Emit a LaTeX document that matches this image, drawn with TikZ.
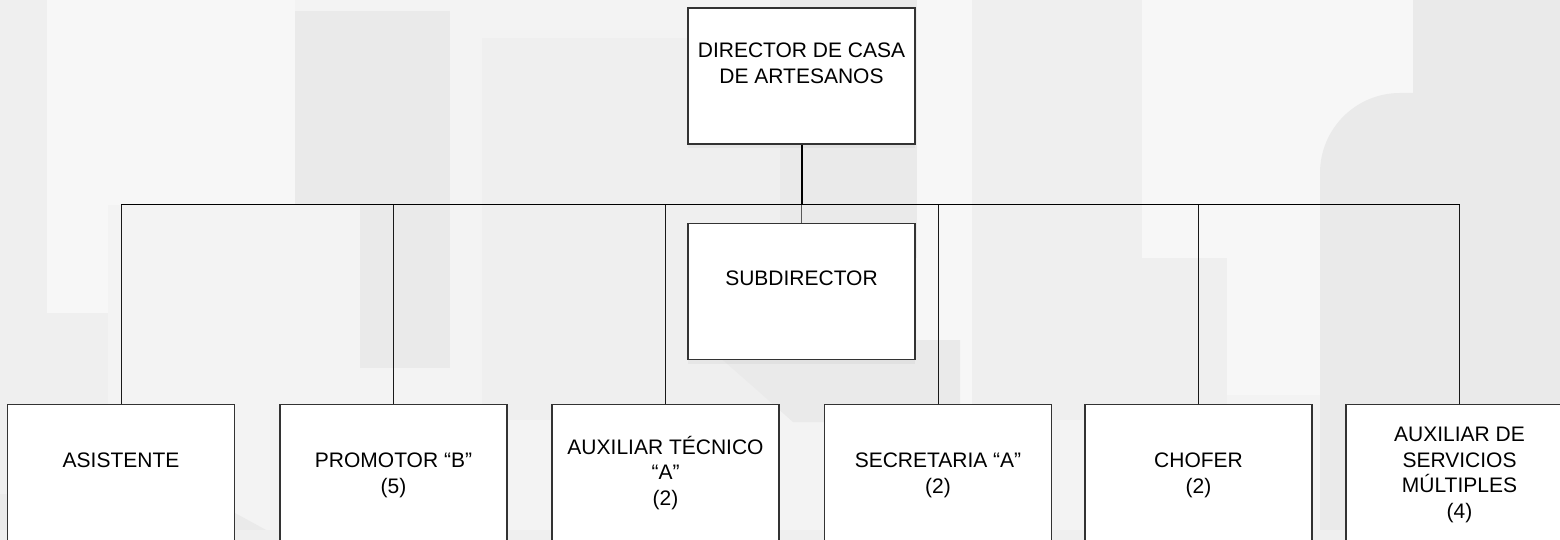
\documentclass[tikz,border=0pt]{standalone}
\usepackage{fontspec}
\setmainfont{Liberation Sans}
\usetikzlibrary{shadows}
\definecolor{bgbase}{HTML}{F3F3F3}
\definecolor{bglite}{HTML}{F7F7F7}
\definecolor{bgmid}{HTML}{EFEFEF}
\definecolor{bgdark}{HTML}{EAEAEA}
\definecolor{boxline}{HTML}{333333}
\newcommand\firstln{\rule{0pt}{20pt}}
\tikzset{
  orgbox/.style={draw=boxline, line width=1.4pt, fill=white, minimum width=227pt,
    minimum height=136pt, inner sep=0pt,
    drop shadow={shadow xshift=0pt, shadow yshift=-4pt, opacity=0.08}},
  lbl/.style={anchor=north, inner sep=0pt, align=center,
    font=\fontsize{21}{25.5}\selectfont, text=black},
  bus/.style={line width=1.1pt, black},
  drop/.style={line width=1pt, black!90},
  stem/.style={line width=2pt, black},
  substem/.style={line width=1.3pt, black!65},
}
\begin{document}
\begin{tikzpicture}[x=1pt, y=-1pt]
\useasboundingbox (0,0) rectangle (1560,540);
\clip (0,0) rectangle (1560,540);
% background watermark shapes
\fill[bgbase] (0,0) rectangle (1560,540);
\fill[bgmid] (0,0) rectangle (47,540);
\fill[bglite] (47,0) rectangle (295,205);
\fill[bglite] (47,205) rectangle (108,313);
\fill[bgmid] (47,313) rectangle (108,540);
\fill[bgdark] (295,11) rectangle (450,205);
\fill[bgdark] (360,205) rectangle (450,368);
\fill[bgmid] (482,38) rectangle (780,420);
\fill[bgdark] (780,0) rectangle (917,258);
\fill[bglite] (917,0) rectangle (972,540);
\fill[bgmid] (972,0) rectangle (1142,420);
\fill[bglite] (1142,0) rectangle (1413,258);
\fill[bgmid] (1141,258) rectangle (1227,405);
\fill[bglite] (1227,258) rectangle (1320,395);
\fill[bgdark] (1413,0) rectangle (1560,93);
\fill[bgdark, rounded corners=80pt] (1320,93) rectangle (1700,700);
\fill[bgdark] (700,340) -- (757,390) -- (793,422) -- (960,422) -- (960,340) -- cycle;
\fill[bgdark] (200,494) -- (560,690) -- (0,690) -- (0,494) -- cycle;
\fill[bgmid] (0,530) rectangle (1560,540);
% boxes
\node[orgbox] (dir) at (801.5,76) {};
\node[orgbox] (sub) at (801.5,291.5) {};
\node[orgbox] (b1) at (121,472.5) {};
\node[orgbox] (b2) at (393.5,472.5) {};
\node[orgbox] (b3) at (665.5,472.5) {};
\node[orgbox] (b4) at (938,472.5) {};
\node[orgbox] (b5) at (1198.5,472.5) {};
\node[orgbox] (b6) at (1459.5,472.5) {};
% labels
\node[lbl] (tdir) at (801.5,37.5) {\firstln DIRECTOR DE CASA\\DE ARTESANOS};
\node[lbl] (tsub) at (801.5,265) {\firstln SUBDIRECTOR};
\node[lbl] (t1) at (121,447.5) {\firstln ASISTENTE};
\node[lbl] (t2) at (393.5,447.5) {\firstln PROMOTOR “B”\\(5)};
\node[lbl] (t3) at (665.5,434) {\firstln AUXILIAR TÉCNICO\\“A”\\(2)};
\node[lbl] (t4) at (938,447.5) {\firstln SECRETARIA “A”\\(2)};
\node[lbl] (t5) at (1198.5,447.5) {\firstln CHOFER\\(2)};
\node[lbl] (t6) at (1459.5,421.5) {\firstln AUXILIAR DE\\SERVICIOS\\MÚLTIPLES\\(4)};
% connectors
\coordinate (busy) at (0,204.5);
\draw[substem] (dir.south |- busy) -- (sub.north);
\foreach \b in {b1,b2,b3,b4,b5,b6}{
  \draw[drop] (\b.north |- busy) -- (\b.north);
}
\draw[bus] (b1.north |- busy) -- (b6.north |- busy);
\draw[stem] (dir.south) -- (dir.south |- busy);
\end{tikzpicture}
\end{document}
